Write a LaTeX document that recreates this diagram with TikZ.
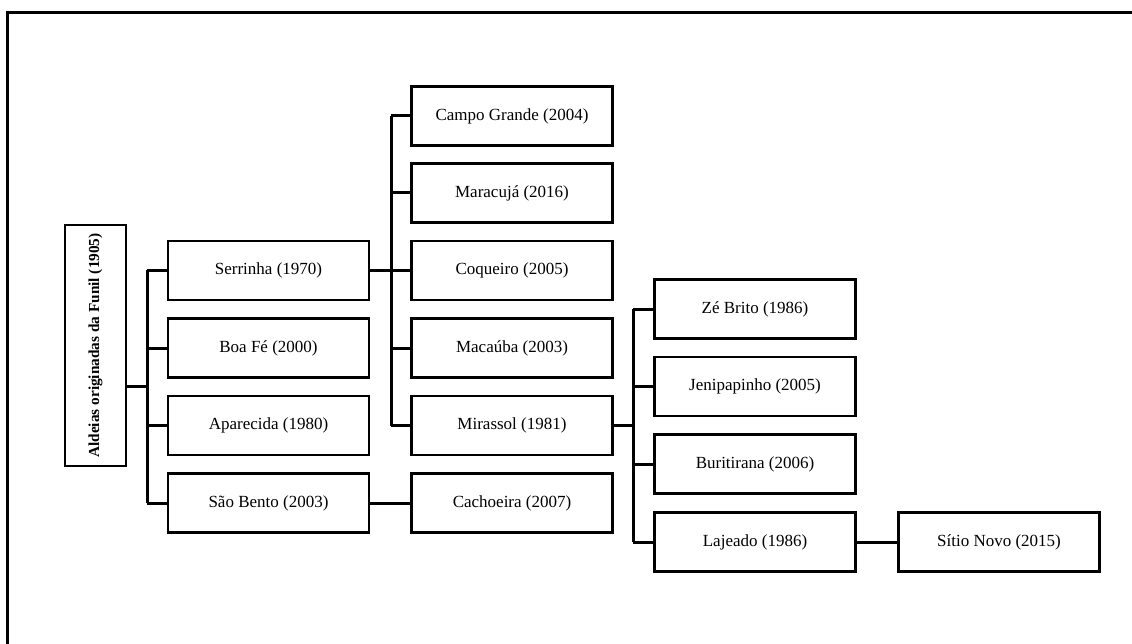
\documentclass[tikz,border=0pt]{standalone}
\usepackage{fontspec}
\setmainfont{Liberation Serif}
\begin{document}
\begin{tikzpicture}[x=1pt,y=-1pt,
  box/.style={draw,line width=2.8pt,minimum width=201pt,minimum height=59pt,inner sep=0pt,font=\fontsize{17}{20}\selectfont},
  rootbox/.style={draw,line width=2.8pt,rotate=90,minimum width=241pt,minimum height=61pt,inner sep=0pt,font=\fontsize{15.3}{18}\selectfont\bfseries},
  link/.style={line width=3pt},
  frame/.style={line width=3pt}]
\useasboundingbox (0,0) rectangle (1132,644);
\draw[frame] (7.5,644) -- (7.5,13) -- (1132,13);
% nodes
\node[rootbox] (root) at (95.5,345.5) {Aldeias originadas da Funil (1905)};
\node[box] (serrinha) at (268.5,270.5) {Serrinha (1970)};
\node[box] (boafe) at (268.5,348) {Boa Fé (2000)};
\node[box] (aparecida) at (268.5,425.5) {Aparecida (1980)};
\node[box] (saobento) at (268.5,503) {São Bento (2003)};
\node[box] (campo) at (512,116) {Campo Grande (2004)};
\node[box] (maracuja) at (512,193) {Maracujá (2016)};
\node[box] (coqueiro) at (512,270.5) {Coqueiro (2005)};
\node[box] (macauba) at (512,348) {Macaúba (2003)};
\node[box] (mirassol) at (512,425.5) {Mirassol (1981)};
\node[box] (cachoeira) at (512,503) {Cachoeira (2007)};
\node[box] (zebrito) at (755,309) {Zé Brito (1986)};
\node[box] (jeni) at (755,386.5) {Jenipapinho (2005)};
\node[box] (buriti) at (755,464) {Buritirana (2006)};
\node[box] (lajeado) at (755,542) {Lajeado (1986)};
\node[box] (sitio) at (999,542) {Sítio Novo (2015)};
% trunk coordinates
\coordinate (t1) at (147,386);
\coordinate (t2) at (391,270.5);
\coordinate (t3) at (633,425.5);
% connectors
\draw[link] (root.south |- t1) -- (t1);
\draw[link] (serrinha.west -| t1) -- (saobento.west -| t1);
\foreach \n in {serrinha,boafe,aparecida,saobento}
  \draw[link] (\n.west -| t1) -- (\n.west);
\draw[link] (serrinha.east) -- (t2);
\draw[link] (campo.west -| t2) -- (mirassol.west -| t2);
\foreach \n in {campo,maracuja,coqueiro,macauba,mirassol}
  \draw[link] (\n.west -| t2) -- (\n.west);
\draw[link] (saobento.east) -- (cachoeira.west);
\draw[link] (mirassol.east) -- (t3);
\draw[link] (zebrito.west -| t3) -- (lajeado.west -| t3);
\foreach \n in {zebrito,jeni,buriti,lajeado}
  \draw[link] (\n.west -| t3) -- (\n.west);
\draw[link] (lajeado.east) -- (sitio.west);
\end{tikzpicture}
\end{document}
